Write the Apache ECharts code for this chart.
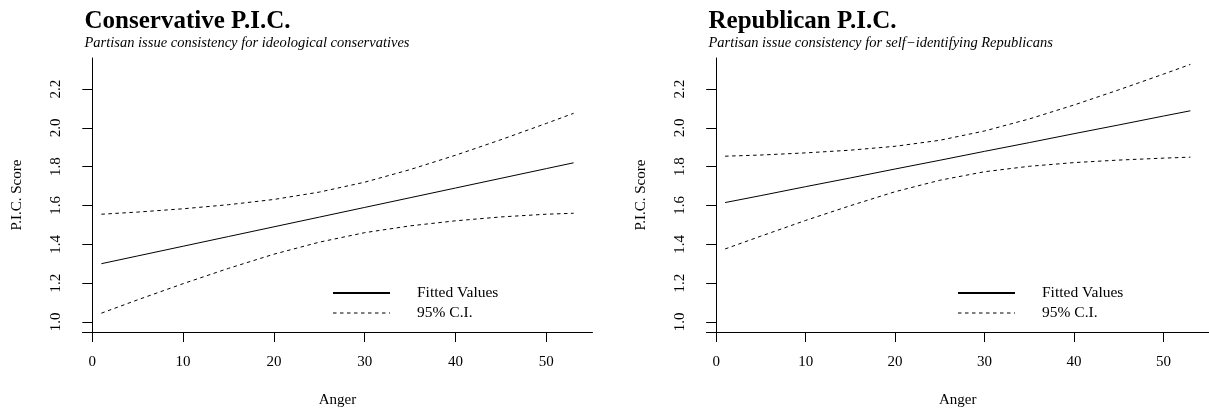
<!DOCTYPE html>
<html>
<head>
<meta charset="utf-8">
<script src="https://cdn.jsdelivr.net/npm/echarts@6/dist/echarts.min.js"></script>
<style>html,body{margin:0;padding:0;background:#fff}#c{width:1209px;height:413px}</style>
</head>
<body>
<div id="c"></div>
<script>
const anger = [1, 5, 10, 15, 20, 25, 30, 35, 40, 45, 50, 53];
const consFit   = [1.300, 1.340, 1.390, 1.440, 1.490, 1.540, 1.590, 1.640, 1.690, 1.740, 1.790, 1.820];
const consUpper = [1.555, 1.566, 1.583, 1.604, 1.631, 1.669, 1.720, 1.785, 1.859, 1.939, 2.023, 2.075];
const consLower = [1.045, 1.114, 1.197, 1.276, 1.349, 1.411, 1.460, 1.495, 1.521, 1.541, 1.555, 1.560];
const repFit    = [1.615, 1.651, 1.697, 1.742, 1.788, 1.833, 1.879, 1.924, 1.970, 2.015, 2.061, 2.088];
const repUpper  = [1.854, 1.860, 1.871, 1.885, 1.905, 1.936, 1.984, 2.046, 2.118, 2.196, 2.277, 2.327];
const repLower  = [1.376, 1.442, 1.523, 1.599, 1.671, 1.730, 1.774, 1.802, 1.821, 1.834, 1.844, 1.849];
const xTicks = [0, 10, 20, 30, 40, 50];
const yTicks = [1.0, 1.2, 1.4, 1.6, 1.8, 2.0, 2.2];
const titles = ['Conservative P.I.C.', 'Republican P.I.C.'];
const subtitles = ['Partisan issue consistency for ideological conservatives', 'Partisan issue consistency for self\u2212identifying Republicans'];
const xName = 'Anger';
const yName = 'P.I.C. Score';
const seriesNames = ['Fitted Values', '95% C.I.'];

const FONT = "'Liberation Serif', 'Times New Roman', serif";
const pair = (ys) => anger.map((a, i) => [a, ys[i]]);
const panelLeft = [82.5, 706.5];
const legendLeft = [332, 957];
const DASH = [3.5, 3.5];

const chart = echarts.init(document.getElementById('c'));

function xAxis(idx) {
  return {
    type: 'value', gridIndex: idx, min: -1.08, max: 55.08,
    name: xName, nameLocation: 'middle', nameGap: 61,
    nameTextStyle: {fontFamily: FONT, fontSize: 15, color: '#000'},
    axisLine: {show: true, onZero: false, lineStyle: {color: '#000', width: 1}},
    axisTick: {show: true, length: 10, customValues: xTicks, lineStyle: {color: '#000'}},
    axisLabel: {customValues: xTicks, margin: 23, fontFamily: FONT, fontSize: 15, color: '#000',
      showMinLabel: true, showMaxLabel: true},
    splitLine: {show: false}
  };
}
function yAxis(idx) {
  return {
    type: 'value', gridIndex: idx, min: 0.948, max: 2.36,
    name: yName, nameLocation: 'middle', nameGap: 58, nameRotate: 90,
    nameTextStyle: {fontFamily: FONT, fontSize: 15, color: '#000'},
    axisLine: {show: true, lineStyle: {color: '#000', width: 1}},
    axisTick: {show: true, length: 10, customValues: yTicks, lineStyle: {color: '#000'}},
    axisLabel: {customValues: yTicks, rotate: 90, margin: 19, fontFamily: FONT, fontSize: 15, color: '#000',
      formatter: v => Number(v).toFixed(1)},
    splitLine: {show: false}
  };
}
function line(idx, name, data, dashed) {
  return {
    type: 'line', name: name, xAxisIndex: idx, yAxisIndex: idx,
    data: pair(data), symbol: 'none', smooth: false,
    lineStyle: {color: '#000', width: 1, type: dashed ? DASH : 'solid'},
    itemStyle: {color: '#000'},
    animation: false, silent: true
  };
}

const option = {
  backgroundColor: '#fff',
  animation: false,
  title: titles.map((t, i) => ({
    text: t, subtext: subtitles[i], left: panelLeft[i] + 2, top: 9, itemGap: 2, padding: 0,
    textStyle: {fontFamily: FONT, fontSize: 25, fontWeight: 'bold', color: '#000'},
    subtextStyle: {fontFamily: FONT, fontSize: 14.5, fontStyle: 'italic', color: '#000'}
  })),
  grid: panelLeft.map(l => ({left: l, top: 58, width: 510, height: 274})),
  xAxis: [xAxis(0), xAxis(1)],
  yAxis: [yAxis(0), yAxis(1)],
  legend: legendLeft.map(l => ({
    orient: 'vertical', left: l, top: 285, padding: 0,
    itemWidth: 57, itemHeight: 14, itemGap: 4,
    data: [
      {name: seriesNames[0]},
      {name: seriesNames[1], lineStyle: {type: DASH, color: '#000', width: 1}}
    ],
    itemStyle: {color: 'rgba(0,0,0,0)', borderWidth: 0, opacity: 0},
    textStyle: {fontFamily: FONT, fontSize: 15.5, color: '#000', padding: [0, 0, 0, 22]},
    selectedMode: false
  })),
  series: [
    line(0, seriesNames[0], consFit, false),
    line(0, seriesNames[1], consUpper, true),
    line(0, seriesNames[1], consLower, true),
    line(1, seriesNames[0], repFit, false),
    line(1, seriesNames[1], repUpper, true),
    line(1, seriesNames[1], repLower, true)
  ]
};
chart.setOption(option);
</script>
</body>
</html>
